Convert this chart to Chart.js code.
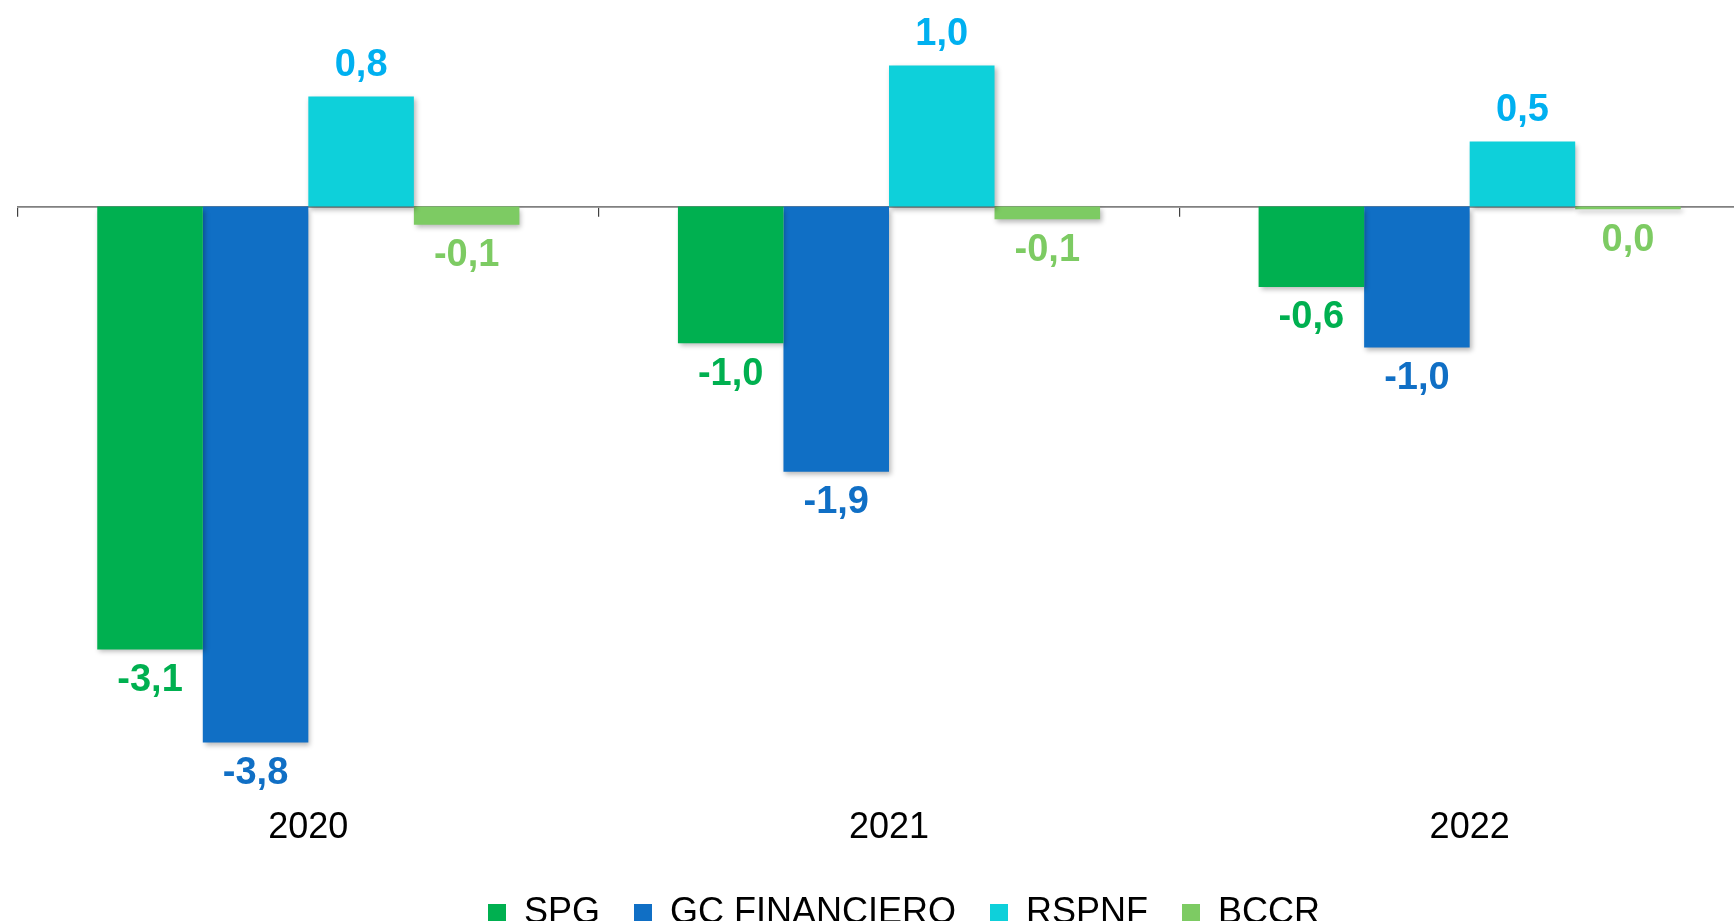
<!DOCTYPE html>
<html>
<head>
<meta charset="utf-8">
<script src="https://cdn.jsdelivr.net/npm/chart.js@4/dist/chart.umd.min.js"></script>
<style>
  html, body { margin: 0; padding: 0; background: #fff; overflow: hidden; }
  #wrap { width: 1820px; height: 941px; }
</style>
</head>
<body>
<div id="wrap"><canvas id="chart" width="1820" height="941"></canvas></div>
<script>
// datos (% del PIB)
const years = ['2020', '2021', '2022'];
const spg = [-3.14, -0.97, -0.57];
const gcFinanciero = [-3.8, -1.88, -1.0];
const rspnf = [0.78, 1.0, 0.46];
const bccr = [-0.13, -0.09, -0.02];

const seriesNames = ['SPG', 'GC FINANCIERO', 'RSPNF', 'BCCR'];
const barColors = ['#00B050', '#106FC5', '#0ED0DA', '#7DCB63'];
const labelColors = ['#00B050', '#106FC5', '#00B0F0', '#7DCB63'];

const FONT = "'Liberation Sans', Arial, sans-serif";

function fmt(v) {
	var r = Math.round(v * 10) / 10;
	return r.toFixed(1).replace('.', ',');
}

// sombra de las barras
const shadowPlugin = {
	id: 'barShadow',
	beforeDatasetsDraw(chart) {
		var ctx = chart.ctx;
		ctx.save();
		ctx.shadowColor = 'rgba(0,0,0,0.28)';
		ctx.shadowBlur = 5;
		ctx.shadowOffsetX = 2;
		ctx.shadowOffsetY = 3;
	},
	afterDatasetsDraw(chart) {
		chart.ctx.restore();
	}
};

// etiquetas de valor
const valueLabels = {
	id: 'valueLabels',
	afterDatasetsDraw(chart) {
		var ctx = chart.ctx;
		ctx.save();
		ctx.font = 'bold 38px ' + FONT;
		ctx.textAlign = 'center';
		ctx.textBaseline = 'middle';
		chart.data.datasets.forEach((ds, i) => {
			var meta = chart.getDatasetMeta(i);
			meta.data.forEach((bar, j) => {
				var v = ds.data[j];
				ctx.fillStyle = labelColors[i];
				var y = v >= 0 ? bar.y - 31 : bar.y + 31;
				ctx.fillText(fmt(v), bar.x, y);
			});
		});
		ctx.restore();
	}
};

const allSeries = [spg, gcFinanciero, rspnf, bccr];

new Chart(document.getElementById('chart'), {
	type: 'bar',
	data: {
		labels: years,
		datasets: allSeries.map((d, i) => ({
			label: seriesNames[i],
			data: d,
			backgroundColor: barColors[i],
			borderWidth: 0,
			barPercentage: 1,
			categoryPercentage: 0.727
		}))
	},
	options: {
		responsive: false,
		animation: false,
		devicePixelRatio: 1,
		layout: { padding: { left: 18, right: 30, top: 9, bottom: 0 } },
		plugins: {
			tooltip: { enabled: false },
			legend: {
				position: 'bottom',
				labels: {
					font: { family: FONT, size: 36 },
					color: '#000',
					boxWidth: 18,
					boxHeight: 18,
					padding: 34
				}
			}
		},
		scales: {
			y: {
				position: 'right',
				min: -4,
				max: 1.4,
				ticks: { display: false },
				grid: { display: false },
				border: { display: false },
				afterFit: s => { s.width = 30; }
			},
			x: {
				position: { y: 0 },
				offset: true,
				ticks: { display: false },
				grid: {
					offset: true,
					drawOnChartArea: false,
					drawTicks: true,
					tickLength: 9,
					color: '#404040',
					lineWidth: 1.2
				},
				border: { display: true, color: '#808080', width: 1.8 }
			},
			x2: {
				type: 'category',
				labels: years,
				position: 'bottom',
				offset: true,
				grid: { display: false, drawTicks: false },
				border: { display: false },
				ticks: {
					font: { family: FONT, size: 36 },
					color: '#000',
					padding: 36
				},
				afterFit: s => { s.height -= 25; }
			}
		}
	},
	plugins: [shadowPlugin, valueLabels]
});
</script>
</body>
</html>
